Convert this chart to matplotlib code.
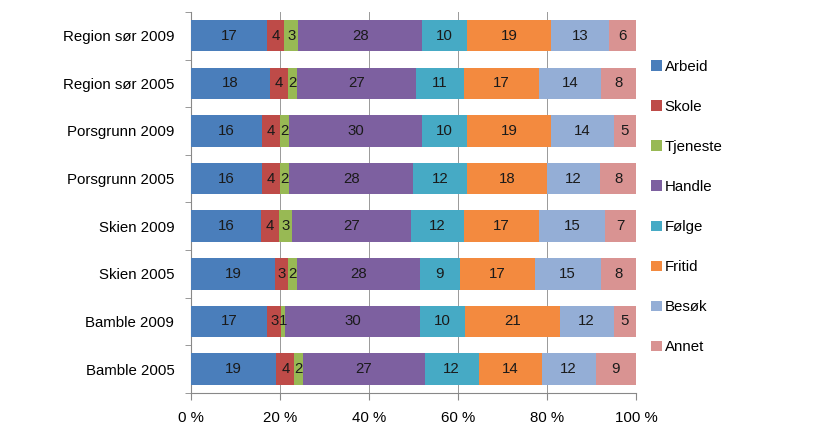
import numpy as np
import matplotlib
matplotlib.use("Agg")
import matplotlib.pyplot as plt

plt.rcParams['font.family'] = ['Liberation Sans', 'DejaVu Sans']

# categories, top to bottom
groups = ['Region sør 2009', 'Region sør 2005', 'Porsgrunn 2009', 'Porsgrunn 2005',
          'Skien 2009', 'Skien 2005', 'Bamble 2009', 'Bamble 2005']
purposes = ['Arbeid', 'Skole', 'Tjeneste', 'Handle', 'Følge', 'Fritid', 'Besøk', 'Annet']

arbeid   = [17, 18, 16, 16, 16, 19, 17, 19]
skole    = [4, 4, 4, 4, 4, 3, 3, 4]
tjeneste = [3, 2, 2, 2, 3, 2, 1, 2]
handle   = [28, 27, 30, 28, 27, 28, 30, 27]
folge    = [10, 11, 10, 12, 12, 9, 10, 12]
fritid   = [19, 17, 19, 18, 17, 17, 21, 14]
besok    = [13, 14, 14, 12, 15, 15, 12, 12]
annet    = [6, 8, 5, 8, 7, 8, 5, 9]

colors = ['#4A7EBB', '#BE4B48', '#98B954', '#7D60A0', '#46AAC5', '#F38A3F', '#94AED6', '#D99392']

series = [arbeid, skole, tjeneste, handle, folge, fritid, besok, annet]
vals = np.array(series, dtype=float)
tot = vals.sum(axis=0)
pct = vals / tot * 100

fig = plt.figure(figsize=(8.18, 4.4), dpi=100)
ax = fig.add_axes([0.2335, 0.107, 0.544, 0.866])

ypos = np.arange(len(groups))[::-1]
left = np.zeros(len(groups))
for i, name in enumerate(purposes):
    ax.barh(ypos, pct[i], left=left, height=0.66, color=colors[i], label=name,
            zorder=3, linewidth=0)
    for j in range(len(groups)):
        ax.text(left[j] + pct[i][j] / 2, ypos[j], str(series[i][j]),
                ha='center', va='center', fontsize=10.8, color='#1a1a1a', zorder=4)
    left += pct[i]

ax.set_xlim(0, 100)
ax.set_ylim(-0.5, len(groups) - 0.5)
ax.set_xticks(np.arange(0, 101, 20))
ax.set_xticklabels(['%d %%' % v for v in range(0, 101, 20)], fontsize=10.8)
ax.xaxis.grid(True, color='#999999', linewidth=0.7, zorder=0)

ax.set_yticks(ypos)
ax.set_yticklabels(groups, fontsize=10.8)
ax.tick_params(axis='y', length=0, pad=12)
ax.set_yticks(np.arange(-0.5, len(groups), 1), minor=True)
ax.tick_params(axis='y', which='minor', length=4, color='#888888')
ax.tick_params(axis='x', length=5, color='#888888', pad=8)

for s in ['top', 'right']:
    ax.spines[s].set_visible(False)
for s in ['left', 'bottom']:
    ax.spines[s].set_color('#888888')

leg = fig.legend(loc='upper left', bbox_to_anchor=(0.7795, 0.895), frameon=False,
                 fontsize=10.8, handlelength=0.7, handleheight=0.7, handletextpad=0.2,
                 labelspacing=1.74)

fig.savefig('out.png', dpi=100)
